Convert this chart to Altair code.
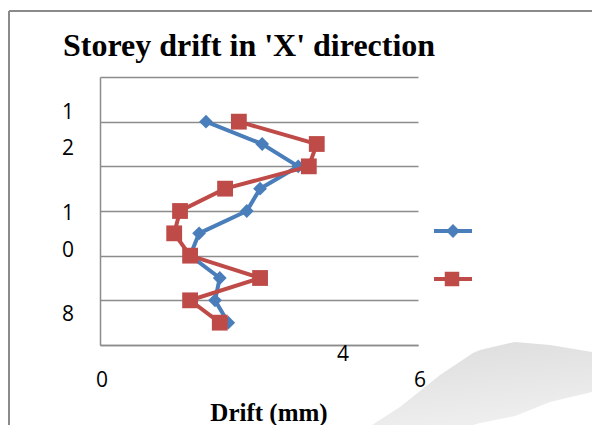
import altair as alt
import pandas as pd

# ---- data ----
storeys = [10, 9, 8, 7, 6, 5, 4, 3, 2, 1]
blue_drift = [2.00, 3.06, 3.74, 3.02, 2.77, 1.87, 1.70, 2.26, 2.17, 2.42]
red_drift = [2.62, 4.09, 3.94, 2.36, 1.51, 1.40, 1.70, 3.02, 1.70, 2.26]
series_names = ["Series 1", "Series 2"]
y_tick_labels = ["1", "2", "1", "0", "8"]
x_tick_labels = ["0", "4", "6"]
title_text = "Storey drift in 'X' direction"
x_title_text = "Drift (mm)"

# decorative watermark outline (page decoration, not chart data)
wm_x = [272, 300, 340, 373, 380, 410, 415, 450, 492]
wm_top = [348, 330, 298, 276, 273, 266, 265, 268, 275]
wm_bottom = [348, 348, 348, 348, 346, 340, 339, 325, 315]

BLUE = "#4A7EBB"
RED = "#BE4B48"
GRID = "#8C8C8C"

W, H = 318, 268

df = pd.DataFrame({
    "storey": storeys * 2,
    "drift": blue_drift + red_drift,
    "series": [series_names[0]] * len(storeys) + [series_names[1]] * len(storeys),
})

xs = alt.Scale(domain=[0, 6], nice=False, zero=False)
ys = alt.Scale(domain=[0, 12], nice=False, zero=False)

base = alt.Chart(df)

axes = alt.Chart(pd.DataFrame({"d": [0]})).mark_point(opacity=0).encode(
    x=alt.X("d:Q", scale=xs, axis=alt.Axis(labels=False, ticks=False, title=None, grid=False,
                                            domainColor=GRID, domainWidth=1.5)),
    y=alt.Y("d:Q", scale=ys, axis=alt.Axis(labels=False, ticks=False, title=None, grid=True,
                                            values=[0, 2, 4, 6, 8, 10, 12], gridColor=GRID,
                                            gridWidth=1.5, domainColor=GRID, domainWidth=1.5)),
)


def series_layer(name, color, shape, size):
    d = base.transform_filter(alt.datum.series == name)
    line = d.mark_line(color=color, strokeWidth=4).encode(
        x=alt.X("drift:Q", scale=xs), y=alt.Y("storey:Q", scale=ys), order="storey:Q")
    pts = d.mark_point(shape=shape, size=size, filled=True, color=color, opacity=1).encode(
        x=alt.X("drift:Q", scale=xs), y=alt.Y("storey:Q", scale=ys))
    return line + pts


blue = series_layer(series_names[0], BLUE, "diamond", 190)
red = series_layer(series_names[1], RED, "square", 250)


def label(txt, px, py, size=21, font="Open Sans", weight="normal", align="center"):
    return alt.Chart(pd.DataFrame({"t": [txt]})).mark_text(
        font=font, fontSize=size, fontWeight=weight, align=align, baseline="alphabetic",
        color="black").encode(x=alt.value(px), y=alt.value(py), text="t:N")


texts = [
    label(title_text, -37, -21, size=32, font="Liberation Serif", weight="bold", align="left"),
    label(x_title_text, 169, 344, size=25, font="Liberation Serif", weight="bold"),
]
for t, py in zip(y_tick_labels, [42, 78, 143, 180, 244]):
    texts.append(label(t, -32, py))
for t, (px, py) in zip(x_tick_labels, [(2, 310), (243, 284), (320, 310)]):
    texts.append(label(t, px, py))

one = pd.DataFrame({"d": [0]})
border_left = alt.Chart(one).mark_rule(color="#8A8A8A", strokeWidth=2).encode(
    x=alt.value(-91), y=alt.value(-66), y2=alt.value(400))
border_top = alt.Chart(one).mark_rule(color="#8A8A8A", strokeWidth=2).encode(
    x=alt.value(-91), x2=alt.value(500), y=alt.value(-66))

wm = alt.Chart(pd.DataFrame({"x": wm_x, "t": wm_top, "b": wm_bottom})).mark_area(
    color=alt.Gradient(
        gradient="linear",
        stops=[alt.GradientStop(color="#DCDCDC", offset=0),
               alt.GradientStop(color="#EEEEEE", offset=1)],
        x1=0, x2=0.3, y1=0, y2=1),
    opacity=1).encode(
    x=alt.X("x:Q", scale=alt.Scale(domain=[0, W], nice=False, zero=False), axis=None),
    y=alt.Y("t:Q", scale=alt.Scale(domain=[H, 0], nice=False, zero=False), axis=None),
    y2="b:Q",
)


def legend_entry(color, shape, size, py, mx):
    line = alt.Chart(one).mark_rule(color=color, strokeWidth=4).encode(
        x=alt.value(334), x2=alt.value(372), y=alt.value(py))
    pt = alt.Chart(one).mark_point(
        shape=shape, size=size, filled=True, color=color, opacity=1).encode(
        x=alt.value(mx), y=alt.value(py))
    return line + pt


legend = legend_entry(BLUE, "diamond", 190, 154, 353) + legend_entry(RED, "square", 210, 202, 352)

main = alt.layer(axes, blue, red, legend, border_left, border_top, *texts)

chart = alt.layer(wm, main).resolve_scale(x="independent", y="independent").properties(
    width=W, height=H,
    autosize=alt.AutoSizeParams(type="none"),
    padding={"left": 100, "top": 77, "right": 174, "bottom": 80},
    background="white",
).configure_view(stroke=None)

chart.save("out.html", embed_options={"renderer": "svg", "actions": False})
